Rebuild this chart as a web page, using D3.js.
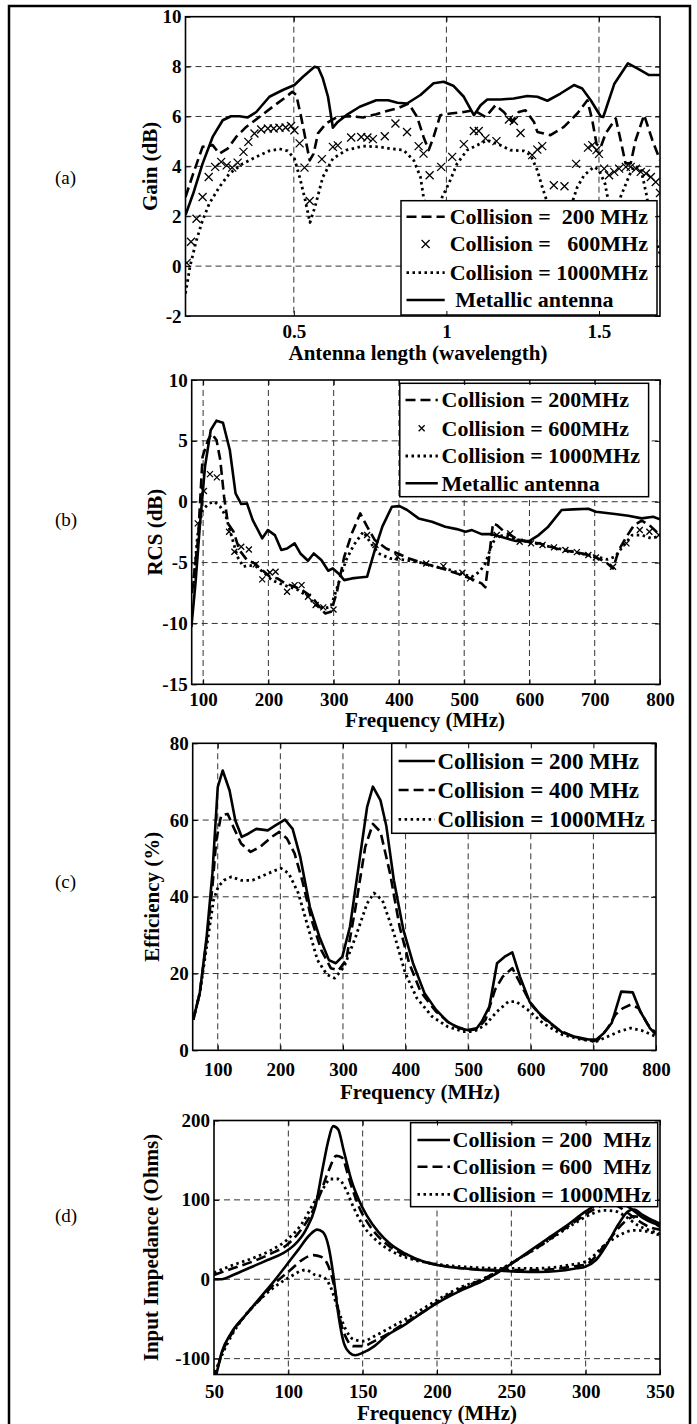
<!DOCTYPE html>
<html><head><meta charset="utf-8">
<script src="https://cdn.jsdelivr.net/npm/d3@7"></script>
<style>
html,body{margin:0;padding:0;background:#fff;}
svg{display:block;}
text{font-family:"Liberation Serif","Times New Roman",serif;}
</style></head><body>
<svg id="fig" width="697" height="1424"></svg>
<script>
// ---------- Panel (a): Gain vs antenna length ----------
const gainXTicks = [0.5, 1, 1.5];
const gainYTicks = [-2, 0, 2, 4, 6, 8, 10];
const gainMetal = [[0.145,2.05],[0.17,2.9],[0.201,4.11],[0.234,5.18],[0.267,5.85],[0.294,6.01],[0.322,6.01],[0.349,5.96],[0.377,6.18],[0.42,6.79],[0.464,7.06],[0.502,7.26],[0.53,7.59],[0.568,7.99],[0.58,7.95],[0.595,7.53],[0.612,6.79],[0.628,5.55],[0.644,5.78],[0.672,6.05],[0.716,6.39],[0.77,6.65],[0.809,6.65],[0.84,6.55],[0.871,6.52],[0.915,6.86],[0.958,7.33],[0.991,7.39],[1.024,7.22],[1.057,6.79],[1.09,6.05],[1.112,6.45],[1.134,6.68],[1.177,6.68],[1.221,6.72],[1.265,6.82],[1.298,6.79],[1.331,6.63],[1.374,6.92],[1.418,7.26],[1.445,7.12],[1.473,6.65],[1.506,6.0],[1.514,5.98],[1.55,7.3],[1.595,8.13],[1.63,7.9],[1.664,7.66],[1.70,7.66]];
const gainC200 = [[0.145,2.77],[0.17,3.7],[0.201,4.78],[0.234,4.85],[0.256,4.51],[0.283,4.71],[0.311,5.18],[0.344,5.58],[0.387,5.98],[0.431,6.39],[0.475,6.79],[0.495,6.99],[0.508,6.86],[0.524,5.98],[0.541,4.92],[0.552,4.24],[0.565,4.51],[0.579,5.32],[0.606,5.72],[0.639,5.96],[0.683,6.01],[0.727,5.96],[0.77,6.09],[0.814,6.25],[0.845,6.35],[0.876,6.52],[0.904,5.98],[0.925,5.18],[0.942,4.65],[0.958,5.18],[0.98,6.05],[1.013,6.12],[1.057,6.18],[1.09,6.25],[1.128,5.98],[1.161,6.45],[1.188,6.18],[1.216,5.78],[1.237,6.18],[1.259,6.25],[1.287,5.78],[1.298,5.38],[1.341,5.25],[1.385,5.58],[1.429,6.12],[1.462,6.65],[1.478,5.85],[1.492,4.9],[1.505,4.75],[1.522,5.32],[1.555,5.92],[1.571,5.05],[1.587,4.12],[1.604,4.12],[1.62,5.05],[1.648,6.06],[1.675,5.05],[1.70,4.25]];
const gainC600 = [[0.149,0.13],[0.163,0.98],[0.181,1.9],[0.201,2.77],[0.221,3.57],[0.242,3.98],[0.262,4.18],[0.28,4.04],[0.298,3.95],[0.316,4.15],[0.335,4.58],[0.351,4.98],[0.371,5.32],[0.393,5.48],[0.415,5.52],[0.434,5.52],[0.453,5.55],[0.473,5.56],[0.491,5.62],[0.502,5.45],[0.519,4.92],[0.535,3.95],[0.552,2.61],[0.592,4.29],[0.628,4.78],[0.644,4.84],[0.688,5.16],[0.721,5.18],[0.741,5.16],[0.759,5.09],[0.798,5.21],[0.833,5.72],[0.871,5.38],[0.909,4.81],[0.925,4.51],[0.945,3.64],[0.983,3.98],[1.019,4.38],[1.057,4.89],[1.09,5.42],[1.106,5.42],[1.128,5.12],[1.164,5.01],[1.205,5.88],[1.221,5.82],[1.243,5.34],[1.281,4.45],[1.298,4.67],[1.314,4.81],[1.352,3.24],[1.387,3.2],[1.425,4.1],[1.464,4.75],[1.478,4.85],[1.492,4.65],[1.5,4.5],[1.517,3.91],[1.533,3.64],[1.55,3.78],[1.566,3.91],[1.588,3.98],[1.604,3.98],[1.621,3.91],[1.637,3.78],[1.654,3.71],[1.67,3.57],[1.686,3.37],[1.70,2.93]];
const gainC1000 = [[0.145,-1.1],[0.16,0.0],[0.18,1.0],[0.2,1.8],[0.223,2.51],[0.256,3.17],[0.289,3.71],[0.333,4.11],[0.377,4.38],[0.42,4.62],[0.453,4.7],[0.48,4.62],[0.502,4.31],[0.519,3.57],[0.535,2.77],[0.553,1.75],[0.57,2.4],[0.595,3.57],[0.628,4.31],[0.672,4.65],[0.727,4.81],[0.781,4.78],[0.816,4.71],[0.86,4.65],[0.893,4.24],[0.915,3.57],[0.925,2.77],[0.945,1.6],[0.96,1.3],[0.975,2.0],[0.986,2.77],[1.008,3.31],[1.035,4.11],[1.068,4.65],[1.101,4.85],[1.134,5.05],[1.177,4.85],[1.21,4.65],[1.254,4.62],[1.276,4.45],[1.298,3.84],[1.314,3.17],[1.325,2.77],[1.345,1.8],[1.37,1.4],[1.395,1.9],[1.418,2.77],[1.429,3.17],[1.451,3.64],[1.484,3.98],[1.5,3.84],[1.52,3.3],[1.53,2.65],[1.55,1.9],[1.56,2.1],[1.571,2.78],[1.6,3.65],[1.615,4.0],[1.637,3.92],[1.655,2.9],[1.665,2.2],[1.69,0.9],[1.70,0.5]];
const gainLegend = ["Collision =  200 MHz", "Collision =   600MHz", "Collision = 1000MHz", " Metallic antenna"];

// ---------- Panel (b): RCS vs frequency ----------
const rcsXTicks = [100, 200, 300, 400, 500, 600, 700, 800];
const rcsYTicks = [-15, -10, -5, 0, 5, 10];
const rcsMetal = [[82,-10.3],[88.3,-6.7],[95.3,-1.78],[102.9,2.88],[111.7,5.89],[120.5,6.66],[130.4,6.49],[140.9,4.25],[149.7,0.68],[158.4,-0.19],[167.2,-0.14],[176,-1.51],[190.6,-3.01],[199.3,-2.33],[209.9,-2.74],[219.8,-3.97],[228.6,-3.84],[240.2,-3.42],[249,-4.25],[260.7,-4.85],[269.5,-4.25],[281.1,-4.79],[291.7,-5.67],[298.7,-5.48],[307.4,-5.89],[316.2,-6.44],[327.9,-6.3],[339.6,-6.22],[351.3,-6.16],[363,-3.97],[374.6,-2.05],[389.2,-0.41],[400.9,-0.36],[412.6,-0.68],[430.1,-1.37],[450.6,-1.64],[471,-2.05],[488.6,-2.25],[502,-2.47],[511.9,-2.33],[526.6,-2.66],[541.2,-2.66],[561.6,-2.96],[579.1,-3.23],[599.6,-3.23],[614.2,-2.74],[628.8,-2.05],[649.3,-0.68],[666.8,-0.63],[690.2,-0.58],[701.8,-0.82],[731,-1.01],[751.5,-1.15],[771.9,-1.37],[789.5,-1.23],[800,-1.45]];
const rcsC200 = [[83,-7.5],[92.2,-3.1],[99.2,3.7],[107.8,5.1],[113,5.6],[120.5,5.07],[126.3,3.42],[132.1,0.41],[138,-1.78],[146.7,-2.47],[155.5,-3.97],[167.2,-4.79],[178.9,-5.07],[190.6,-5.62],[202.3,-6.16],[213.9,-6.3],[225.6,-6.71],[240.2,-6.99],[251.9,-7.26],[266.5,-7.81],[278.2,-8.63],[287,-9.18],[295.7,-9.04],[304.5,-7.53],[316.2,-4.52],[327.9,-2.6],[340.7,-0.96],[351.3,-2.05],[363,-3.15],[380.5,-3.84],[398,-4.25],[415.5,-4.66],[438.9,-5.07],[456.4,-5.34],[474,-5.62],[491.5,-5.95],[509,-6.3],[526.6,-6.71],[532.4,-7.04],[538.2,-4.52],[544.1,-1.78],[549.9,-1.92],[561.6,-2.47],[579.1,-3.01],[596.7,-3.29],[614.2,-3.42],[631.7,-3.7],[649.3,-3.97],[666.8,-4.11],[684.3,-4.3],[701.8,-4.58],[716.4,-4.93],[728.1,-5.48],[736.9,-3.97],[748.6,-2.88],[760.3,-1.92],[772,-1.56],[783.7,-1.92],[800,-2.74]];
const rcsC600 = [[91.8,-1.78],[101.2,0.88],[110.5,2.27],[121,2.0],[139.7,-2.47],[147.9,-4.11],[158.4,-3.7],[170.1,-3.92],[180.6,-5.15],[190.6,-6.38],[202.3,-5.81],[211,-5.75],[228.6,-7.4],[240.2,-6.85],[250.8,-6.85],[260.7,-7.81],[272.4,-8.49],[284.1,-8.68],[299.8,-8.85],[351.3,-2.74],[364.1,-3.56],[398,-4.52],[441.8,-5.07],[468.1,-5.29],[497.3,-5.84],[509,-6.3],[549.9,-2.74],[570.4,-2.6],[585,-3.29],[602.5,-3.42],[620,-3.56],[637.6,-3.75],[655.1,-3.97],[672.6,-4.14],[690.2,-4.38],[701.8,-4.58],[728.1,-5.34],[748.6,-3.42],[769,-2.33],[783.7,-2.47],[798.3,-2.74]];
const rcsC1000 = [[85.4,-6.71],[91.2,-2.88],[98.8,-0.68],[108.8,-0.14],[117.5,0],[126.3,-0.41],[135.1,-1.23],[143.8,-2.88],[152.6,-4.52],[161.4,-5.34],[170.1,-5.21],[181.8,-5.34],[193.5,-5.84],[205.2,-6.44],[216.9,-6.71],[231.5,-6.99],[246.1,-7.26],[260.7,-7.81],[272.4,-8.49],[284.1,-8.77],[295.7,-8.63],[307.4,-6.71],[319.1,-4.79],[330.8,-3.56],[345.4,-2.47],[357.1,-3.42],[368.8,-4.25],[386.3,-4.66],[409.7,-4.79],[433.1,-5.01],[456.4,-5.34],[479.8,-5.62],[497.3,-5.95],[511.9,-6.16],[523.6,-5.75],[532.4,-5.07],[541.2,-3.7],[549.9,-2.74],[567.5,-2.88],[585,-3.15],[608.4,-3.42],[631.7,-3.7],[655.1,-3.97],[678.5,-4.25],[701.8,-4.52],[719.4,-4.74],[731.1,-4.52],[742.8,-3.7],[757.4,-2.74],[772,-2.74],[786.6,-3.01],[800,-2.82]];
const rcsLegend = ["Collision = 200MHz", "Collision = 600MHz", "Collision = 1000MHz", "Metallic antenna"];

// ---------- Panel (c): Efficiency vs frequency ----------
const effXTicks = [100, 200, 300, 400, 500, 600, 700, 800];
const effYTicks = [0, 20, 40, 60, 80];
const effC200 = [[60.9,7.97],[71.3,14.9],[82.3,29.6],[91.5,46.1],[100,68.6],[107.9,72.9],[118.9,67.7],[128.1,59.9],[138.4,55.6],[149.4,56.5],[161.6,57.7],[179.9,57.3],[192.2,58.6],[207.4,60.1],[219.6,57.7],[231.8,50.4],[247.1,37.4],[262.3,29.6],[277.6,23.5],[288.6,22.7],[299,24.4],[311.2,32.2],[323.4,46.1],[338.6,63.4],[347.8,68.7],[360,65.1],[369.1,58.6],[381.3,44.3],[396.6,31.3],[411.9,22.7],[430.2,14.9],[448.5,10.6],[466.8,7.5],[485.1,5.8],[500.3,5.2],[512.5,5.5],[521.7,7.5],[533.9,11.4],[546.1,22.7],[558.3,24.4],[570.5,25.5],[582.7,19.2],[598,12.7],[613.2,9.7],[631.5,7.1],[649.9,4.7],[671.2,3.5],[692.6,2.8],[704.8,2.8],[717,4.5],[729.2,7.1],[744.4,15.3],[762.8,15.1],[775,10.1],[790.2,5.8],[800,4.1]];
const effC400 = [[60.9,8],[71.3,14.9],[82.3,28.7],[91.5,42.6],[97.6,54.7],[105.5,61.2],[115.9,61.6],[125,58.2],[137.2,53.9],[152.5,51.7],[167.7,53.0],[186.1,55.6],[198.3,56.9],[210.5,55.2],[222.7,51.3],[234.9,44.3],[250.1,33.9],[265.4,26.1],[280.6,21.4],[292.8,20.8],[305,23.5],[320.3,37.4],[335.6,53.0],[347.8,59.0],[360,56.9],[375.2,46.1],[390.5,32.2],[405.7,22.7],[424,15.3],[448.5,10.1],[472.9,6.7],[497.3,5.2],[515.6,5.8],[527.8,8.0],[543,15.8],[555.2,19.2],[570.5,21.4],[585.8,16.6],[601,11.9],[619.3,8.4],[643.8,5.4],[668.2,3.5],[698.7,2.3],[707.8,2.8],[723.1,5.8],[735.3,9.3],[747.5,11.0],[759.7,11.9],[771.9,11.0],[787.1,6.7],[800,4.5]];
const effC1000 = [[60.9,8],[71.3,14.9],[82.3,27],[93.3,39.1],[100.6,42.6],[109.8,44.3],[122,45.2],[137.2,44.3],[155.5,44.3],[173.8,45.6],[192.2,46.9],[201.3,47.4],[213.5,46.1],[228.8,40.9],[244,32.2],[259.3,23.5],[274.5,19.7],[286.7,18.8],[302,21.8],[320.3,29.6],[338.6,38.3],[349.6,41.0],[363,39.1],[381.3,30.5],[399.6,20.1],[418,13.6],[442.4,8.8],[466.8,6.2],[491.2,4.9],[509.5,4.9],[527.8,6.7],[546.1,10.1],[564.4,12.7],[576.6,12.7],[594.9,10.6],[619.3,7.1],[649.9,4.1],[680.4,2.8],[704.8,2.3],[723.1,3.6],[741.4,4.9],[759.7,5.8],[778,5.1],[800,3.6]];
const effLegend = ["Collision = 200 MHz", "Collision = 400 MHz", "Collision = 1000MHz"];

// ---------- Panel (d): Input impedance vs frequency ----------
const impXTicks = [50, 100, 150, 200, 250, 300, 350];
const impYTicks = [-100, 0, 100, 200];
const impR200 = [[50,0],[55.1,0],[62.8,5.4],[75.7,15.8],[86,24.2],[96.2,32.5],[103.9,42.9],[111.6,61.7],[118.1,90.8],[123.2,140.8],[127.1,176.3],[130.1,192.9],[133.5,188.8],[137.3,161.7],[142.5,124.2],[147.6,99.2],[152.7,80.4],[160.5,59.6],[168.2,45],[178.4,32.5],[191.3,22.1],[204.1,16.7],[217,13.8],[229.8,11.7],[242.7,10.8],[255.5,9.6],[268.3,9.2],[281.2,10.4],[294,13.8],[299.7,15.8],[306.9,24.2],[314.6,45],[322.3,70],[328.7,85.8],[332.6,87.9],[337.7,81.7],[342.8,76.3],[350,70]];
const impR600 = [[50,5.4],[62.8,13.8],[75.7,22.1],[88.5,32.5],[98.8,42.9],[106.5,57.5],[114.2,78.3],[120.6,103.3],[127.1,136.7],[132.2,155.4],[136.1,153.3],[141.2,124.2],[147.6,90.8],[155.3,65.8],[165.6,45],[178.4,30.4],[191.3,22.1],[217,13.8],[242.7,11.7],[268.3,11.7],[294,16.7],[300,18.5],[314.6,47],[327.4,74.2],[332.5,79.2],[340.3,76.3],[350,65.8]];
const impR1000 = [[50,8.3],[62.8,17.9],[75.7,26.3],[88.5,36.7],[98.8,49.2],[109.1,70],[116.8,95],[123.2,113.8],[128.3,126.3],[133.5,126.3],[138.6,113.8],[143.8,90.8],[150.2,67.9],[157.9,51.3],[168.2,36.7],[181,26.3],[196.4,20],[217,15.8],[242.7,13.8],[268.3,13.8],[288.9,17.9],[299.7,22],[314.6,45.8],[324.9,57.5],[332.5,61.7],[342.8,59.6],[350,55.4]];
const impX200 = [[50,-130],[51.3,-121.7],[55.1,-92.5],[61.6,-67.5],[70.5,-46.7],[80.8,-23.8],[91.1,-0.8],[98.8,17.9],[106.5,36.7],[114.2,55.4],[119.4,62.5],[123.2,59.6],[127.1,40.8],[130.1,7.5],[133.5,-42.5],[137.3,-80],[141.2,-92.5],[145,-95.8],[150.2,-92.5],[157.9,-84.2],[165.6,-71.7],[178.4,-57.1],[191.3,-40.4],[204.1,-25.8],[217,-13.3],[229.8,-2.9],[240.1,7.5],[250.4,20],[263.2,36.7],[276,53.3],[288.9,70],[299.2,84.6],[304.3,90.8],[309.4,97],[317.1,99.2],[324.9,95],[330,89.6],[337.7,78.3],[345.4,70.8],[350,67.9]];
const impX600 = [[50,-128],[51.3,-119.6],[55.1,-94.6],[61.6,-69.6],[70.5,-46.7],[80.8,-25.8],[91.1,-5],[101.4,11.7],[109.1,24.2],[116.8,30.4],[121.9,28.3],[127.1,15.8],[130.9,-9.2],[134.8,-50.8],[139.4,-75.8],[143.8,-84.2],[150.2,-84.2],[157.9,-77.9],[168.2,-67.5],[178.4,-55],[191.3,-40.4],[204.1,-23.8],[217,-11.3],[229.8,-0.8],[242.7,11.7],[255.5,26.3],[268.3,40.8],[281.2,57.5],[294,74.2],[304.3,86.7],[312,92.9],[319.7,92.9],[327.4,84.6],[335.1,74.2],[342.8,65.8],[350,62.5]];
const impX1000 = [[50,-125],[51.3,-115.4],[55.1,-96.7],[61.6,-71.7],[70.5,-46.7],[80.8,-25.8],[91.1,-9.2],[101.4,3.3],[111.6,11.7],[118.1,5.4],[123.2,3.3],[128.3,-9.2],[133.5,-38.3],[138.6,-63.3],[143.8,-75.8],[150.2,-77.9],[157.9,-71.7],[168.2,-61.3],[178.4,-50.8],[191.3,-36.3],[204.1,-21.7],[217,-9.2],[229.8,-0.8],[242.7,12.5],[255.5,26.3],[268.3,40.8],[281.2,56.7],[294,72.1],[304.3,82.5],[312,86.7],[319.7,85.8],[327.4,78.3],[335.1,67.9],[342.8,61.7],[350,57.5]];
const impLegend = ["Collision = 200  MHz", "Collision = 600  MHz", "Collision = 1000MHz"];

// ---------- Styles & layout ----------
const STYLE = {
  solid:  {w: 2.6, dash: null},
  dashed: {w: 2.6, dash: "10,5"},
  dotted: {w: 2.8, dash: "2.5,3.5"},
};

const panels = [
  {tag:"(a)", tagY:184, left:185.5, right:660, top:16.7, bottom:316,
   xDomain:[0.145,1.7], yDomain:[-2,10], xTicks:gainXTicks, yTicks:gainYTicks,
   xLabel:"Antenna length (wavelength)", xLabelX:418, xLabelY:360,
   yLabel:"Gain (dB)", yLabelX:150, xTickPad:8.5, curve:d3.curveLinear, markSize:4,
   series:[{d:gainC200,s:"dashed"},{d:gainC600,s:"marker"},{d:gainC1000,s:"dotted"},{d:gainMetal,s:"solid"}],
   legend:{x0:401, y0:200.7, x1:657, y1:315, rows:[216.7,244,272.7,300], s0:406.5, s1:444.7, tx:449.7, fs:22,
     items:[{t:gainLegend[0],s:"dashed"},{t:gainLegend[1],s:"marker"},{t:gainLegend[2],s:"dotted"},{t:gainLegend[3],s:"solid"}]}},
  {tag:"(b)", tagY:526, left:191.7, right:660, top:380, bottom:684.3,
   xDomain:[82.5,800], yDomain:[-15,10], xTicks:rcsXTicks, yTicks:rcsYTicks,
   xLabel:"Frequency (MHz)", xLabelX:425, xLabelY:727,
   yLabel:"RCS (dB)", yLabelX:155, xTickPad:8, curve:d3.curveLinear, markSize:3,
   series:[{d:rcsMetal,s:"solid"},{d:rcsC1000,s:"dotted"},{d:rcsC200,s:"dashed"},{d:rcsC600,s:"marker"}],
   legend:{x0:399.8, y0:383.3, x1:648.6, y1:496.7, rows:[400,428.3,456,483.3], s0:405.5, s1:437.8, tx:441.6, fs:22,
     items:[{t:rcsLegend[0],s:"dashed"},{t:rcsLegend[1],s:"marker"},{t:rcsLegend[2],s:"dotted"},{t:rcsLegend[3],s:"solid"}]}},
  {tag:"(c)", tagY:888, left:192.7, right:656, top:743.3, bottom:1050.3,
   xDomain:[60,800], yDomain:[0,80], xTicks:effXTicks, yTicks:effYTicks,
   xLabel:"Frequency (MHz)", xLabelX:420, xLabelY:1099,
   yLabel:"Efficiency (%)", yLabelX:152, xTickPad:12, curve:d3.curveLinear, markSize:4,
   series:[{d:effC1000,s:"dotted"},{d:effC400,s:"dashed"},{d:effC200,s:"solid"}],
   legend:{x0:391.7, y0:743.3, x1:655.3, y1:833.3, rows:[761,790,819.3], s0:398.6, s1:434.9, tx:437.5, fs:23,
     items:[{t:effLegend[0],s:"solid"},{t:effLegend[1],s:"dashed"},{t:effLegend[2],s:"dotted"}]}},
  {tag:"(d)", tagY:1222, left:214, right:660, top:1120.5, bottom:1374.5,
   xDomain:[50,350], yDomain:[-120,200], xTicks:impXTicks, yTicks:impYTicks,
   xLabel:"Frequency (MHz)", xLabelX:437, xLabelY:1420,
   yLabel:"Input Impedance (Ohms)", yLabelX:151, xTickPad:10, curve:d3.curveMonotoneX, markSize:4,
   series:[{d:impR1000,s:"dotted"},{d:impX1000,s:"dotted"},{d:impR600,s:"dashed"},{d:impX600,s:"dashed"},{d:impR200,s:"solid"},{d:impX200,s:"solid"}],
   legend:{x0:410.6, y0:1122.7, x1:657.7, y1:1206.7, rows:[1140,1166.7,1194.3], s0:417.5, s1:450, tx:452.6, fs:22,
     items:[{t:impLegend[0],s:"solid"},{t:impLegend[1],s:"dashed"},{t:impLegend[2],s:"dotted"}]}},
];

const svg = d3.select("#fig");
svg.append("rect").attr("x",0).attr("y",0).attr("width",697).attr("height",1424).attr("fill","#fff");

function crossPath(s){ return `M${-s},${-s}L${s},${s}M${-s},${s}L${s},${-s}`; }

function applyStyle(sel, s){
  const st = STYLE[s];
  sel.attr("fill","none").attr("stroke","#000").attr("stroke-width",st.w)
     .attr("stroke-linejoin","round");
  if (st.dash) sel.attr("stroke-dasharray", st.dash);
}

panels.forEach((p, i) => {
  const x = d3.scaleLinear().domain(p.xDomain).range([p.left, p.right]);
  const y = d3.scaleLinear().domain(p.yDomain).range([p.bottom, p.top]);
  const g = svg.append("g");
  const clipId = "clip" + i;
  svg.append("clipPath").attr("id", clipId).append("rect")
    .attr("x", p.left).attr("y", p.top).attr("width", p.right - p.left).attr("height", p.bottom - p.top);

  // grid
  const grid = g.append("g").attr("stroke","#333").attr("stroke-width",1).attr("stroke-dasharray","6,4");
  p.xTicks.filter(t => t > p.xDomain[0] && t < p.xDomain[1]).forEach(t => {
    grid.append("line").attr("x1", x(t)).attr("x2", x(t)).attr("y1", p.top).attr("y2", p.bottom);
  });
  p.yTicks.filter(t => t > p.yDomain[0] && t < p.yDomain[1]).forEach(t => {
    grid.append("line").attr("y1", y(t)).attr("y2", y(t)).attr("x1", p.left).attr("x2", p.right);
  });

  // series
  const sg = g.append("g").attr("clip-path", `url(#${clipId})`);
  const line = d3.line().x(d => x(d[0])).y(d => y(d[1])).curve(p.curve);
  p.series.forEach(se => {
    if (se.s === "marker") {
      sg.append("g").selectAll("path").data(se.d).join("path")
        .attr("transform", d => `translate(${x(d[0])},${y(d[1])})`)
        .attr("d", crossPath(p.markSize)).attr("stroke","#000").attr("stroke-width",1.3).attr("fill","none");
    } else {
      applyStyle(sg.append("path").datum(se.d).attr("d", line), se.s);
    }
  });

  // legend
  const L = p.legend;
  const lg = g.append("g");
  lg.append("rect").attr("x", L.x0).attr("y", L.y0).attr("width", L.x1 - L.x0).attr("height", L.y1 - L.y0)
    .attr("fill","#fff").attr("stroke","#000").attr("stroke-width",1.5);
  L.items.forEach((it, k) => {
    const cy = L.rows[k];
    if (it.s === "marker") {
      lg.append("path").attr("transform", `translate(${(L.s0+L.s1)/2},${cy})`).attr("d", crossPath(p.markSize))
        .attr("stroke","#000").attr("stroke-width",1.3).attr("fill","none");
    } else {
      applyStyle(lg.append("line").attr("x1", L.s0).attr("x2", L.s1).attr("y1", cy).attr("y2", cy), it.s);
    }
    lg.append("text").attr("x", L.tx).attr("y", cy + L.fs * 0.34)
      .attr("font-size", L.fs).attr("font-weight","bold").attr("xml:space","preserve")
      .style("white-space","pre").text(it.t);
  });

  // axes
  const fmt = d => String(d);
  const styleAxis = (ag) => {
    ag.select(".domain").remove();
    ag.selectAll(".tick line").attr("stroke","#000").attr("stroke-width",1);
    ag.attr("font-family", null).attr("font-size", null);
    ag.selectAll("text").attr("fill","#000").attr("font-size",19).attr("font-weight","bold")
      .attr("font-family","'Liberation Serif','Times New Roman',serif");
  };
  g.append("g").attr("transform",`translate(0,${p.bottom})`)
    .call(d3.axisBottom(x).tickValues(p.xTicks).tickFormat(fmt).tickSizeInner(-5).tickSizeOuter(0).tickPadding(p.xTickPad))
    .call(styleAxis);
  g.append("g").attr("transform",`translate(${p.left},0)`)
    .call(d3.axisLeft(y).tickValues(p.yTicks).tickFormat(fmt).tickSizeInner(-5).tickSizeOuter(0).tickPadding(4))
    .call(styleAxis);
  g.append("g").attr("transform",`translate(0,${p.top})`)
    .call(d3.axisTop(x).tickValues(p.xTicks).tickFormat("").tickSizeInner(-5).tickSizeOuter(0))
    .call(styleAxis);
  g.append("g").attr("transform",`translate(${p.right},0)`)
    .call(d3.axisRight(y).tickValues(p.yTicks).tickFormat("").tickSizeInner(-5).tickSizeOuter(0))
    .call(styleAxis);

  // box
  g.append("rect").attr("x", p.left).attr("y", p.top).attr("width", p.right - p.left).attr("height", p.bottom - p.top)
    .attr("fill","none").attr("stroke","#000").attr("stroke-width",1.6);

  // titles
  g.append("text").attr("x", p.xLabelX).attr("y", p.xLabelY).attr("text-anchor","middle")
    .attr("font-size",21).attr("font-weight","bold").text(p.xLabel);
  g.append("text").attr("transform",`translate(${p.yLabelX},${(p.top+p.bottom)/2}) rotate(-90)`)
    .attr("text-anchor","middle").attr("dy","0.35em")
    .attr("font-size",21).attr("font-weight","bold").text(p.yLabel);
  g.append("text").attr("x", 55).attr("y", p.tagY).attr("font-size",19).text(p.tag);
});

// outer frame
svg.append("rect").attr("x",9).attr("y",6).attr("width",681).attr("height",1440)
  .attr("fill","none").attr("stroke","#000").attr("stroke-width",2.5);
</script>
</body></html>
